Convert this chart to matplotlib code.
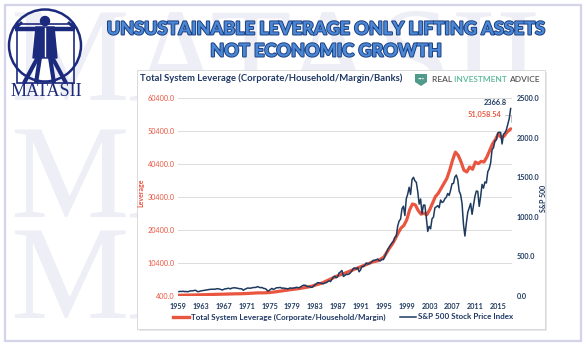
import numpy as np
import matplotlib
matplotlib.use("Agg")
import matplotlib.pyplot as plt
import matplotlib.patheffects as pe
from matplotlib.patches import Rectangle, Circle, Polygon
from matplotlib.lines import Line2D

W, H = 586, 350

# S&P 500, quarterly (Mar/Jun/Sep/Dec), 1959 Q1 .. 2017 Q1
sp500_q = [
    55.4, 58.5, 56.9, 59.9,        # 1959
    55.3, 56.9, 53.5, 58.1,        # 1960
    65.1, 64.6, 66.7, 71.6,        # 1961
    69.6, 54.8, 56.3, 63.1,        # 1962
    66.6, 69.4, 71.7, 75.0,        # 1963
    79.0, 81.7, 84.2, 84.8,        # 1964
    86.2, 84.1, 90.0, 92.4,        # 1965
    89.2, 84.7, 77.0, 80.3,        # 1966
    90.2, 90.6, 96.7, 96.5,        # 1967
    90.2, 99.6, 102.7, 103.9,      # 1968
    101.5, 97.7, 93.1, 92.1,       # 1969
    89.6, 72.7, 84.2, 92.2,        # 1970
    100.3, 99.7, 98.3, 102.1,      # 1971
    107.2, 107.1, 110.6, 118.1,    # 1972
    111.5, 104.3, 108.4, 97.6,     # 1973
    94.0, 86.0, 63.5, 68.6,        # 1974
    83.4, 95.2, 83.9, 90.2,        # 1975
    102.8, 104.3, 105.2, 107.5,    # 1976
    98.4, 100.5, 96.5, 95.1,       # 1977
    89.2, 95.5, 102.5, 96.1,       # 1978
    101.6, 102.9, 109.3, 107.9,    # 1979
    102.1, 114.2, 125.5, 135.8,    # 1980
    136.0, 131.2, 116.2, 122.6,    # 1981
    112.0, 109.6, 120.4, 140.6,    # 1982
    153.0, 168.1, 166.1, 164.9,    # 1983
    159.2, 153.2, 166.1, 167.2,    # 1984
    180.7, 191.9, 182.1, 211.3,    # 1985
    238.9, 250.8, 231.3, 242.2,    # 1986
    291.7, 304.0, 321.8, 247.1,    # 1987
    258.9, 273.5, 271.9, 277.7,    # 1988
    294.9, 318.0, 349.2, 353.4,    # 1989
    339.9, 358.0, 306.1, 330.2,    # 1990
    375.2, 371.2, 387.9, 417.1,    # 1991
    403.7, 408.1, 417.8, 435.7,    # 1992
    451.7, 450.5, 458.9, 466.5,    # 1993
    445.8, 444.3, 462.7, 459.3,    # 1994
    500.7, 544.8, 584.4, 615.9,    # 1995
    645.5, 670.6, 687.3, 740.7,    # 1996
    757.1, 885.1, 947.3, 970.4,    # 1997
    1101.8, 1133.8, 1017.0, 1229.2,  # 1998
    1286.4, 1372.7, 1282.7, 1469.3,  # 1999
    1498.6, 1454.6, 1436.5, 1320.3,  # 2000
    1160.3, 1224.4, 1040.9, 1148.1,  # 2001
    1147.4, 989.8, 815.3, 879.8,     # 2002
    848.2, 974.5, 996.0, 1111.9,     # 2003
    1126.2, 1140.8, 1114.6, 1211.9,  # 2004
    1180.6, 1191.3, 1228.8, 1248.3,  # 2005
    1294.8, 1270.2, 1335.9, 1418.3,  # 2006
    1420.9, 1503.4, 1526.8, 1468.4,  # 2007
    1322.7, 1280.0, 1166.4, 903.3,   # 2008
    757.1, 919.3, 1057.1, 1115.1,    # 2009
    1169.4, 1030.7, 1141.2, 1257.6,  # 2010
    1325.8, 1320.6, 1131.4, 1257.6,  # 2011
    1408.5, 1362.2, 1440.7, 1426.2,  # 2012
    1569.2, 1606.3, 1681.6, 1848.4,  # 2013
    1872.3, 1960.2, 1972.3, 2058.9,  # 2014
    2067.9, 2063.1, 1920.0, 2043.9,  # 2015
    2059.7, 2098.9, 2168.3, 2238.8,  # 2016
    2366.8,                          # 2017
]
sp500_dates = 1959 + 2 / 12 + 0.25 * np.arange(len(sp500_q))

# Total system leverage (billions)
lev_years = [1959, 1960, 1961, 1962, 1963, 1964, 1965, 1966, 1967, 1968,
             1969, 1970, 1971, 1972, 1973, 1974, 1975, 1976, 1977, 1978,
             1979, 1980, 1981, 1982, 1983, 1984, 1985, 1986, 1987, 1988,
             1989, 1990, 1991, 1992, 1993, 1994, 1995, 1995.5, 1996, 1996.5,
             1997, 1997.5, 1998, 1998.5, 1999, 1999.5, 2000, 2000.5, 2001, 2001.5,
             2002, 2002.5, 2003, 2003.5, 2004, 2004.5, 2005, 2005.5, 2006, 2006.5,
             2007, 2007.5, 2008, 2008.5, 2009, 2009.5, 2010, 2010.5, 2011, 2011.5,
             2012, 2012.5, 2013, 2013.5, 2014, 2014.5, 2015, 2015.5, 2016, 2016.5,
             2017.17]
lev_values = [600, 640, 680, 720, 770, 820, 870, 920, 960, 1010,
              1060, 1080, 1150, 1250, 1350, 1350, 1450, 1650, 1900, 2150,
              2400, 2600, 2900, 3200, 3700, 4200, 5000, 5800, 6600, 7200,
              7900, 8600, 9300, 10000, 10700, 11100, 12200, 13600, 15000, 16200,
              17800, 19500, 21000, 21800, 23500, 26500, 28300, 28000, 26300, 25200,
              25500, 25000, 26500, 28500, 30500, 31500, 33000, 34500, 36000, 38500,
              41500, 44000, 43000, 41000, 38500, 38000, 39500, 38800, 41000, 40500,
              41200, 41000, 42500, 44500, 46500, 47800, 49500, 48500, 48800, 50000,
              51058.54]

year_ticks = list(range(1959, 2016, 4))
lev_ticks = [400, 10400, 20400, 30400, 40400, 50400, 60400]
sp_ticks = [0, 500, 1000, 1500, 2000, 2500]

RED = "#ea5540"
NAVY = "#1f3a5f"
LOGO = "#1c2a7e"

plt.rcParams["font.family"] = ["Lato", "DejaVu Sans"]

fig = plt.figure(figsize=(W / 100, H / 100), dpi=100)
fig.patch.set_facecolor("white")

# background layer in pixel coordinates
deco = fig.add_axes([0, 0, 1, 1], zorder=-5)
deco.set_xlim(0, W)
deco.set_ylim(H, 0)
deco.axis("off")

for base in (100, 217, 318):
    deco.text(10, base, "MATASII", family="Liberation Serif", fontsize=96,
              color="#eeeef6", ha="left", va="baseline", zorder=1)

deco.add_patch(Rectangle((5, 5), 576, 336, fill=False, edgecolor="#d3d3ea", lw=1.6, zorder=2))
deco.add_patch(Rectangle((139, 72), 408, 259, facecolor="#e8e8ee", edgecolor="none", zorder=2))
deco.add_patch(Rectangle((137, 70), 408, 259, facecolor="white", edgecolor="#d4d4d4", lw=0.6, zorder=2.1))

# vitruvian logo
deco.add_patch(Circle((45, 45.5), 36, fill=False, edgecolor=LOGO, lw=1.8, zorder=3))
deco.add_patch(Rectangle((17, 24), 57, 59, fill=False, edgecolor=LOGO, lw=1.2, zorder=3))
deco.add_patch(Circle((45, 21), 4.5, color=LOGO, zorder=3))
deco.add_patch(Polygon([(36, 27), (54, 27), (57, 58), (33, 58)], closed=True, color=LOGO, zorder=3))
for xs, ys, lw in [((15, 75), (29, 29), 3.2), ((15, 22), (29, 22), 2.0), ((75, 68), (29, 22), 2.0),
                   ((38, 24), (57, 83), 3.0), ((52, 66), (57, 83), 3.0),
                   ((40, 36), (57, 83), 3.0), ((50, 54), (57, 83), 3.0)]:
    deco.plot(xs, ys, color=LOGO, lw=lw, solid_capstyle="butt", zorder=3)
deco.plot((45, 45), (28, 56), color="white", lw=1.0, zorder=3.1)
deco.text(46, 91.5, "MATASII", family="Liberation Serif", fontsize=13, color=LOGO,
          ha="center", va="center", zorder=3)

# banner title
banner_fx = [pe.withStroke(linewidth=1.4, foreground="#1d3f80")]
deco.text(326, 29, "UNSUSTAINABLE LEVERAGE ONLY LIFTING ASSETS", ha="center", va="center",
          fontsize=13, weight="black", color="#4a88d6", path_effects=banner_fx, zorder=4)
deco.text(326, 51, "NOT ECONOMIC GROWTH", ha="center", va="center",
          fontsize=13, weight="black", color="#4a88d6", path_effects=banner_fx, zorder=4)

# chart header
deco.text(140, 78, "Total System Leverage (Corporate/Household/Margin/Banks)", ha="left",
          va="center", fontsize=6.8, weight="bold", color="#1f3864", zorder=4)
deco.add_patch(Polygon([(415, 74), (427, 74), (427, 82), (421, 86), (415, 82)], closed=True,
                       facecolor="#4f9a8a", edgecolor="none", zorder=4))
deco.text(421, 79, "•••", ha="center", va="center", fontsize=3, color="white", zorder=5)

renderer = fig.canvas.get_renderer()
x_pos = 432
for word, col in [("REAL ", "#555555"), ("INVESTMENT ", "#5cb89c"), ("ADVICE", "#555555")]:
    t = deco.text(x_pos, 80, word, ha="left", va="center", fontsize=6.0,
                  weight="semibold", color=col, zorder=4)
    bb = t.get_window_extent(renderer)
    x_pos += bb.width * 100 / fig.dpi

# main chart
ax = fig.add_axes([178 / W, 1 - 296 / H, 334 / W, 198 / H], zorder=1)
ax.set_facecolor("none")
ax2 = ax.twinx()

ax.plot(lev_years, lev_values, color=RED, lw=2.3, solid_capstyle="round", zorder=2)
ax2.plot(sp500_dates, sp500_q, color=NAVY, lw=1.1, zorder=3)

ax.set_xlim(1959, 2017.4)
ax.set_ylim(lev_ticks[0], lev_ticks[-1])
ax2.set_ylim(sp_ticks[0], sp_ticks[-1])

ax.set_xticks(year_ticks)
ax.set_xticklabels([str(y) for y in year_ticks], fontsize=5.2, weight="bold", color=NAVY)
ax.set_yticks(lev_ticks)
ax.set_yticklabels([f"{v:.1f}" for v in lev_ticks], fontsize=5.2, color=RED)
ax2.set_yticks(sp_ticks)
ax2.set_yticklabels([f"{v:.1f}" for v in sp_ticks], fontsize=5.2, weight="bold", color=NAVY)

ax.yaxis.grid(True, color="#dcdcdc", lw=0.7)
ax.set_axisbelow(True)
ax.tick_params(axis="x", length=0, pad=5)
ax.tick_params(axis="y", length=0, pad=2.5)
ax2.tick_params(axis="y", length=0, pad=3.5)
for a in (ax, ax2):
    for s in a.spines.values():
        s.set_visible(False)

ax.set_ylabel("Leverage", fontsize=5, weight="bold", color=RED)
ax.yaxis.set_label_coords(-0.1, 0.52)
ax2.set_ylabel("S&P 500", fontsize=5, weight="bold", color=NAVY)
ax2.yaxis.set_label_coords(1.085, 0.495)

ax2.annotate("2366.8", xy=(sp500_dates[-1], sp500_q[-1]), xytext=(-3, 4),
             textcoords="offset points", ha="right", va="center",
             fontsize=5.3, weight="bold", color=NAVY)
ax.annotate(f"{lev_values[-1]:,.2f}", xy=(lev_years[-1], lev_values[-1]), xytext=(-7, 10),
            textcoords="offset points", ha="right", va="center",
            fontsize=5.3, weight="bold", color=RED,
            arrowprops=dict(arrowstyle="-", color="#aaaaaa", lw=0.5,
                            connectionstyle="angle,angleA=0,angleB=90", shrinkA=1, shrinkB=5))

handles = [Line2D([], [], color=RED, lw=2.4), Line2D([], [], color=NAVY, lw=1.1)]
labels = ["Total System Leverage (Corporate/Household/Margin)", "S&P 500 Stock Price Index"]
leg = fig.legend(handles, labels, loc="center", bbox_to_anchor=(343 / W, 1 - 317 / H),
                 ncol=2, frameon=False, handlelength=2.0, handletextpad=0.2,
                 columnspacing=1.8, prop={"size": 5.8, "weight": "bold"})
for t in leg.get_texts():
    t.set_color("#1f3864")

fig.savefig("out.png", dpi=100)
